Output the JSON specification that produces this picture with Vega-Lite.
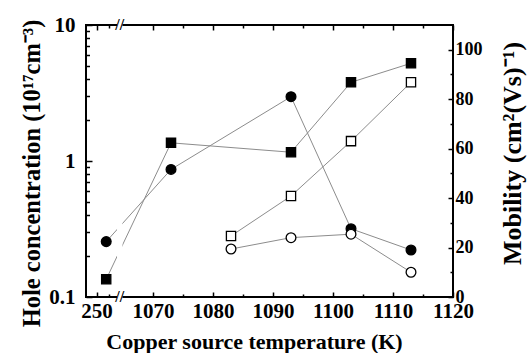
{
  "$schema": "https://vega.github.io/schema/vega-lite/v6.json",
  "width": 367,
  "height": 272,
  "autosize": "none",
  "padding": {"left": 86, "top": 25, "right": 79, "bottom": 56},
  "background": "white",
  "config": {
    "view": {"stroke": "black", "strokeWidth": 2},
    "font": "Liberation Serif",
    "axis": {
      "domain": false, "grid": false, "labelOverlap": false, "labelBound": false, "labelFlush": false,
      "tickColor": "black", "tickWidth": 1.5,
      "labelFont": "Liberation Serif", "labelFontWeight": "bold", "labelFontSize": 21, "labelColor": "black",
      "titleFont": "Liberation Serif", "titleFontWeight": "bold", "titleFontSize": 22, "titleColor": "black"
    }
  },
  "datasets": {
    "conc": [
      {"T": 251.6, "v": 0.135, "fill": "filled"},
      {"T": 1073, "v": 1.36, "fill": "filled"},
      {"T": 1093, "v": 1.16, "fill": "filled"},
      {"T": 1103, "v": 3.79, "fill": "filled"},
      {"T": 1113, "v": 5.23, "fill": "filled"},
      {"T": 1083, "v": 0.281, "fill": "open"},
      {"T": 1093, "v": 0.553, "fill": "open"},
      {"T": 1103, "v": 1.40, "fill": "open"},
      {"T": 1113, "v": 3.79, "fill": "open"}
    ],
    "mob": [
      {"T": 251.6, "v": 22.4, "fill": "filled"},
      {"T": 1073, "v": 51.6, "fill": "filled"},
      {"T": 1093, "v": 81.0, "fill": "filled"},
      {"T": 1103, "v": 27.6, "fill": "filled"},
      {"T": 1113, "v": 19.0, "fill": "filled"},
      {"T": 1083, "v": 19.4, "fill": "open"},
      {"T": 1093, "v": 24.0, "fill": "open"},
      {"T": 1103, "v": 25.4, "fill": "open"},
      {"T": 1113, "v": 10.0, "fill": "open"}
    ]
  },
  "layer": [
    {
      "data": {"name": "conc"},
      "transform": [{"calculate": "datum.T < 500 ? datum.T + 810.6 : datum.T", "as": "pos"}],
      "mark": {"type": "line", "color": "#8c8c8c", "strokeWidth": 1},
      "encoding": {
        "x": {"field": "pos", "type": "quantitative",
          "scale": {"domain": [1058.83, 1120], "nice": false, "zero": false},
          "axis": {"orient": "bottom", "values": [1060.6, 1070, 1080, 1090, 1100, 1110, 1120],
            "format": "d", "labelExpr": "datum.value < 1065 ? '250' : datum.label",
            "tickSize": -5, "labelPadding": 8,
            "title": "Copper source temperature (K)", "titleX": 168, "titleY": 34, "titleAnchor": "middle"}},
        "y": {"field": "v", "type": "quantitative",
          "scale": {"type": "log", "domain": [0.1, 10], "nice": false},
          "axis": {"orient": "left", "values": [0.1, 1, 10], "format": "~g", "tickSize": -6, "labelPadding": 17,
            "title": "Hole concentration (10¹⁷cm⁻³)", "titleFontSize": 24.5, "titleX": -54, "titleY": 148, "titleBaseline": "middle"}},
        "detail": {"field": "fill", "type": "nominal"}
      }
    },
    {
      "data": {"name": "mob"},
      "transform": [{"calculate": "datum.T < 500 ? datum.T + 810.6 : datum.T", "as": "pos"}],
      "mark": {"type": "line", "color": "#8c8c8c", "strokeWidth": 1},
      "encoding": {
        "x": {"field": "pos", "type": "quantitative",
          "axis": {"orient": "top", "values": [1060.6, 1070, 1080, 1090, 1100, 1110, 1120],
            "labels": false, "tickSize": -5, "title": null}},
        "y": {"field": "v", "type": "quantitative",
          "scale": {"domain": [0, 110], "nice": false},
          "axis": {"orient": "right", "values": [0, 20, 40, 60, 80, 100], "tickSize": -5, "labelPadding": 7, "labelFontSize": 18,
            "title": "Mobility (cm²(Vs)⁻¹)", "titleFontSize": 26, "titleAngle": 270, "titleX": 59, "titleY": 128, "titleBaseline": "middle"}},
        "detail": {"field": "fill", "type": "nominal"}
      }
    },
    {
      "data": {"values": [{}]},
      "mark": {"type": "rect", "color": "white"},
      "encoding": {
        "x": {"datum": 1064.0, "type": "quantitative", "axis": null},
        "x2": {"datum": 1064.9},
        "y": {"datum": -0.02, "type": "quantitative", "scale": {"domain": [0, 1], "nice": false, "zero": false}, "axis": null},
        "y2": {"datum": 1.02}
      }
    },
    {
      "data": {"name": "conc"},
      "transform": [{"calculate": "datum.T < 500 ? datum.T + 810.6 : datum.T", "as": "pos"}],
      "mark": {"type": "point", "shape": "square", "filled": true, "stroke": "black", "strokeWidth": 1.3, "size": 85, "opacity": 1},
      "encoding": {
        "x": {"field": "pos", "type": "quantitative",
          "axis": {"orient": "bottom", "values": [1062.6, 1075, 1085, 1095, 1105, 1115],
            "labels": false, "tickSize": -3, "title": null}},
        "y": {"field": "v", "type": "quantitative",
          "scale": {"type": "log", "domain": [0.1, 10], "nice": false},
          "axis": {"orient": "left", "values": [0.2, 0.3, 0.4, 0.5, 0.6, 0.7, 0.8, 0.9, 2, 3, 4, 5, 6, 7, 8, 9],
            "labels": false, "tickSize": -3.5, "title": null}},
        "fill": {"field": "fill", "type": "nominal", "scale": {"domain": ["filled", "open"], "range": ["black", "white"]}, "legend": null}
      }
    },
    {
      "data": {"name": "mob"},
      "transform": [{"calculate": "datum.T < 500 ? datum.T + 810.6 : datum.T", "as": "pos"}],
      "mark": {"type": "point", "shape": "circle", "filled": true, "stroke": "black", "strokeWidth": 1.3, "size": 95, "opacity": 1},
      "encoding": {
        "x": {"field": "pos", "type": "quantitative",
          "axis": {"orient": "top", "values": [1062.6, 1075, 1085, 1095, 1105, 1115],
            "labels": false, "tickSize": -3, "title": null}},
        "y": {"field": "v", "type": "quantitative",
          "scale": {"domain": [0, 110], "nice": false},
          "axis": {"orient": "right", "values": [10, 30, 50, 70, 90],
            "labels": false, "tickSize": -3, "title": null}},
        "fill": {"field": "fill", "type": "nominal", "scale": {"domain": ["filled", "open"], "range": ["black", "white"]}, "legend": null}
      }
    },
    {
      "data": {"values": [{}]},
      "mark": {"type": "text", "text": "//", "fontSize": 16, "fontWeight": "bold", "font": "Liberation Serif", "color": "black", "align": "center", "baseline": "middle"},
      "encoding": {
        "x": {"datum": 1064.45, "type": "quantitative", "axis": null},
        "y": {"datum": 0, "type": "quantitative", "scale": {"domain": [0, 1], "nice": false, "zero": false}, "axis": null}
      }
    },
    {
      "data": {"values": [{}]},
      "mark": {"type": "text", "text": "//", "fontSize": 16, "fontWeight": "bold", "font": "Liberation Serif", "color": "black", "align": "center", "baseline": "middle"},
      "encoding": {
        "x": {"datum": 1064.45, "type": "quantitative", "axis": null},
        "y": {"datum": 1, "type": "quantitative", "scale": {"domain": [0, 1], "nice": false, "zero": false}, "axis": null}
      }
    }
  ],
  "resolve": {"scale": {"y": "independent"}, "axis": {"x": "independent", "y": "independent"}}
}
